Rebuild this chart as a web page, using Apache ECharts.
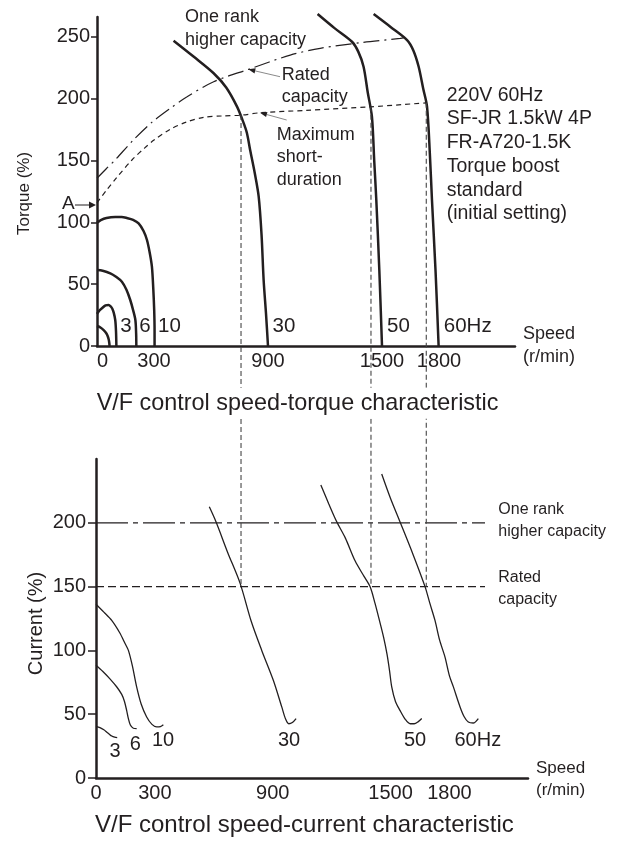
<!DOCTYPE html>
<html><head><meta charset="utf-8">
<script src="https://cdn.jsdelivr.net/npm/echarts@6/dist/echarts.min.js"></script>
<style>html,body{margin:0;padding:0;background:#fff}#c{width:625px;height:842px}</style>
</head><body><div id="c"></div>
<script>
const INK = '#231f20';
const FONT = '"Liberation Sans", Arial, Helvetica, sans-serif';

// ---- tick labels ----
const speedTickLabels = [0, 300, 900, 1500, 1800];
const torqueTickLabels = [0, 50, 100, 150, 200, 250];
const currentTickLabels = [0, 50, 100, 150, 200];

// ---- top chart: speed (r/min) vs torque (%) ----
const torque_low = [[0,16.2],[18,15],[35,12.9],[48,10.5],[56,8.1],[62,5],[65,2],[66,0]];
const torque_3hz = [[0,26],[12,28.5],[26,30.5],[45,32.8],[61,33.1],[72,32],[80,30.3],[88,27],[96,21],[100,12],[102,0]];
const torque_6hz = [[0,61.4],[30,60.8],[70,58.8],[100,56],[131,52],[155,45.5],[175,37.2],[190,29],[202,21],[206,10],[207,0]];
const torque_10hz = [[0,99.7],[20,101.8],[50,103.5],[96,104.3],[130,104.3],[157,103.5],[190,102],[219,99.2],[245,93],[263,85.7],[278,75],[289,64.1],[296,47],[301,29.1],[303,12],[303,0]];
const torque_30hz = [[403,246.8],[508,234],[614,220.5],[680,209],[737,193.5],[770,181],[789,172.2],[806,158.4],[830,140],[851,120.7],[866,90],[877,53.4],[890,25],[900,0]];
const torque_50hz = [[1161,268.4],[1250,257],[1342,246],[1375,238],[1403,225.8],[1425,205],[1447,185.4],[1459,150],[1470,118],[1486,61],[1500,0]];
const torque_60hz = [[1456,268.4],[1545,258],[1632,247.4],[1665,239],[1693,225.8],[1717,208],[1737,193.5],[1752,155],[1763,118],[1782,60],[1798,0]];
const torque_rated = [[0,135.6],[50,143.5],[96,150.5],[191,166.5],[290,181],[386,192.2],[474,201.5],[614,213.7],[798,223.7],[1017,235.2],[1175,240.7],[1400,245.5],[1596,248.7],[1620,249.5]];
const torque_maxShort = [[0,115.8],[50,126],[100,135.5],[184,150.4],[250,160],[300,166.5],[386,175.2],[470,181],[561,184.9],[660,186],[763,186.7],[859,188.6],[1100,190.5],[1441,193.4],[1732,196.6]];

// connector lines (speed, torque at top intersection)
const connSpeeds = [758, 1442, 1733];
const connTorques = [186.7, 193.4, 196.6];

// ---- bottom chart: speed (r/min) vs current (%) ----
const current_3hz = [[0,40.5],[20,39.5],[40,37.8],[54,36.1],[68,34.3],[80,32.9],[95,32],[108,31.7]];
const current_6hz = [[0,88.4],[35,83.5],[71,77.7],[105,71.5],[131,65.5],[145,60],[156,53],[165,46.5],[175,41.5],[190,39],[207,38.7]];
const current_10hz = [[0,136.2],[40,130],[80,123.5],[120,114],[148,105.4],[165,100],[185,88],[207,71.4],[230,58],[258,47.8],[285,42],[309,40],[328,40.3],[343,41.8]];
const current_30hz = [[577,212.5],[611,200.8],[670,177],[734,152.5],[790,123],[844,100],[903,76.6],[946,55.7],[966,46],[982,42.5],[1000,43.5],[1019,46.6]];
const current_50hz = [[1145,229.6],[1185,215],[1226,200.8],[1270,188],[1320,170],[1365,158],[1396,149.8],[1421,136.8],[1443,123.7],[1465,110],[1482,97],[1495,84],[1506,71.4],[1525,60],[1548,53],[1575,46],[1600,42.5],[1620,42.5],[1640,44],[1659,46.6]];
const current_60hz = [[1455,238.2],[1500,219],[1548,200.8],[1615,175],[1676,149.8],[1700,137],[1726,123.7],[1750,108],[1777,94.9],[1800,80],[1820,71.4],[1854,55.7],[1875,48],[1896,43.9],[1921,43.1],[1947,46.6]];
const oneRankLevel = 200;
const ratedLevel = 150;
const levelEndSpeed = 1981;

function line(data, xi, w, type, color, smooth) {
  return {type:'line', xAxisIndex:xi, yAxisIndex:xi, data:data, showSymbol:false, symbol:'none',
    smooth: smooth === undefined ? 0.3 : smooth, clip:false, silent:true, animation:false,
    lineStyle:{color: color || INK, width:w, type: type || 'solid'}};
}

function txt(text, x, y, size, extra) {
  const st = Object.assign({text:text, font: size + 'px ' + FONT, fill: INK, align:'left', verticalAlign:'middle'}, (extra && extra.style) || {});
  const el = {type:'text', x:x, y:y, z:100, silent:true, style:st};
  if (extra && extra.rotation) el.rotation = extra.rotation;
  return el;
}
function arrow(x1, y1, x2, y2, len, half, lineColor) {
  const dx = x2 - x1, dy = y2 - y1, d = Math.sqrt(dx*dx + dy*dy);
  const ux = dx/d, uy = dy/d;
  const bx = x2 - ux*len, by = y2 - uy*len;
  return [
    {type:'line', z:100, silent:true, shape:{x1:x1, y1:y1, x2:bx, y2:by}, style:{stroke:lineColor, lineWidth:1}},
    {type:'polygon', z:100, silent:true, shape:{points:[[x2,y2],[bx - uy*half, by + ux*half],[bx + uy*half, by - ux*half]]}, style:{fill:INK}}
  ];
}

const graphics = [
  txt('One rank\nhigher capacity', 185, 6, 18, {style:{verticalAlign:'top', lineHeight:22.5}}),
  txt('Rated\ncapacity', 281.7, 64, 18, {style:{verticalAlign:'top', lineHeight:22}}),
  txt('Maximum\nshort-\nduration', 276.7, 123.7, 18, {style:{verticalAlign:'top', lineHeight:22.5}}),
  txt('220V 60Hz\nSF-JR 1.5kW 4P\nFR-A720-1.5K\nTorque boost\nstandard\n(initial setting)', 446.7, 83.5, 19.5, {style:{verticalAlign:'top', lineHeight:23.7}}),
  txt('Speed\n(r/min)', 523, 322.6, 18, {style:{verticalAlign:'top', lineHeight:22.7}}),
  txt('A', 68.3, 203.3, 19, {style:{align:'center'}}),
  txt('Torque (%)', 24, 193.5, 17, {rotation: Math.PI/2, style:{align:'center'}}),
  txt('3', 126, 326, 20.5, {style:{align:'center'}}),
  txt('6', 145, 326, 20.5, {style:{align:'center'}}),
  txt('10', 169.5, 326, 20.5, {style:{align:'center'}}),
  txt('30', 284, 326, 20.5, {style:{align:'center'}}),
  txt('50', 398.5, 326, 20.5, {style:{align:'center'}}),
  txt('60Hz', 467.7, 326, 20.5, {style:{align:'center'}}),
  txt('V/F control speed-torque characteristic', 96.7, 403.3, 23.4, {style:{backgroundColor:'#fff', padding:[4,2,4,0]}}),
  txt('One rank\nhigher capacity', 498.3, 499, 16, {style:{verticalAlign:'top', lineHeight:21.7}}),
  txt('Rated\ncapacity', 498.3, 567, 16, {style:{verticalAlign:'top', lineHeight:22}}),
  txt('Current (%)', 36, 623.5, 20, {rotation: Math.PI/2, style:{align:'center'}}),
  txt('3', 115, 751, 20, {style:{align:'center'}}),
  txt('6', 135.3, 744.5, 20, {style:{align:'center'}}),
  txt('10', 163, 740, 20, {style:{align:'center'}}),
  txt('30', 289, 740, 20, {style:{align:'center'}}),
  txt('50', 415, 740, 20, {style:{align:'center'}}),
  txt('60Hz', 477.8, 740, 20, {style:{align:'center'}}),
  txt('Speed\n(r/min)', 536, 757.5, 17, {style:{verticalAlign:'top', lineHeight:21.7}}),
  txt('V/F control speed-current characteristic', 95, 825.8, 24, {})
].concat(arrow(75, 205, 96, 205, 7, 3.5, INK))
 .concat(arrow(280, 76.7, 248.3, 69.3, 7, 2.6, '#8a8a8a'))
 .concat(arrow(286.7, 120, 260, 112.7, 7, 2.6, '#8a8a8a'));

const plainNum = function (v) { return String(v); };
const axisLabelStyle = {color: INK, fontFamily: FONT, fontSize: 20, formatter: plainNum};

const baseSeries = [
  line(torque_low, 0, 2.5),
  line(torque_3hz, 0, 2.5),
  line(torque_6hz, 0, 2.5),
  line(torque_10hz, 0, 2.5),
  line(torque_30hz, 0, 2.5),
  line(torque_50hz, 0, 2.5),
  line(torque_60hz, 0, 2.5),
  line(torque_rated, 0, 1.2, [16,5,2,5]),
  line(torque_maxShort, 0, 1.2, [5,4]),
  line(current_3hz, 1, 1.3),
  line(current_6hz, 1, 1.3),
  line(current_10hz, 1, 1.3),
  line(current_30hz, 1, 1.3),
  line(current_50hz, 1, 1.3),
  line(current_60hz, 1, 1.3),
  line([[0, oneRankLevel],[levelEndSpeed, oneRankLevel]], 1, 1.2, [32,5,5,5], INK, false),
  line([[0, ratedLevel],[levelEndSpeed, ratedLevel]], 1, 1.2, [8,4], INK, false)
];

const option = {
  animation: false,
  backgroundColor: '#fff',
  grid: [
    {left: 97, top: 17, width: 418, height: 329},
    {left: 96, top: 459, width: 432, height: 319}
  ],
  xAxis: [
    {type:'value', gridIndex:0, min:0, max:2200, interval:300,
     axisLine:{show:true, onZero:false, lineStyle:{color:INK, width:2.5}},
     axisTick:{show:false}, splitLine:{show:false},
     axisLabel:Object.assign({margin:5, customValues: speedTickLabels, alignMinLabel:'left'}, axisLabelStyle)},
    {type:'value', gridIndex:1, min:0, max:2200, interval:300,
     axisLine:{show:true, onZero:false, lineStyle:{color:INK, width:2.5}},
     axisTick:{show:false}, splitLine:{show:false},
     axisLabel:Object.assign({margin:5, customValues: speedTickLabels}, axisLabelStyle)}
  ],
  yAxis: [
    {type:'value', gridIndex:0, min:0, max:266, interval:50,
     axisLine:{show:true, onZero:false, lineStyle:{color:INK, width:2.5}},
     axisTick:{show:true, length:6, customValues: torqueTickLabels, lineStyle:{color:INK, width:1.5}}, splitLine:{show:false},
     axisLabel:Object.assign({margin:7, customValues: torqueTickLabels}, axisLabelStyle)},
    {type:'value', gridIndex:1, min:0, max:250, interval:50,
     axisLine:{show:true, onZero:false, lineStyle:{color:INK, width:2.5}},
     axisTick:{show:true, length:8, customValues: currentTickLabels, lineStyle:{color:INK, width:1.5}}, splitLine:{show:false},
     axisLabel:Object.assign({margin:10, customValues: currentTickLabels}, axisLabelStyle)}
  ],
  graphic: {elements: graphics},
  series: baseSeries
};

const chart = echarts.init(document.getElementById('c'), null, {renderer:'canvas'});
chart.setOption(option);

// vertical connector lines: from the top intersections down to the rated-current level of the lower chart
const ratedPixY = chart.convertToPixel({xAxisIndex:1, yAxisIndex:1}, [0, ratedLevel])[1];
const connectors = connSpeeds.map(function (s, i) {
  const px = chart.convertToPixel({xAxisIndex:0, yAxisIndex:0}, [s, connTorques[i]]);
  const low = chart.convertFromPixel({xAxisIndex:0, yAxisIndex:0}, [px[0], ratedPixY]);
  return line([[s, connTorques[i]], [s, low[1]]], 0, 1.1, [5,3], '#444', false);
});
chart.setOption({series: baseSeries.concat(connectors)});
</script>
</body></html>
